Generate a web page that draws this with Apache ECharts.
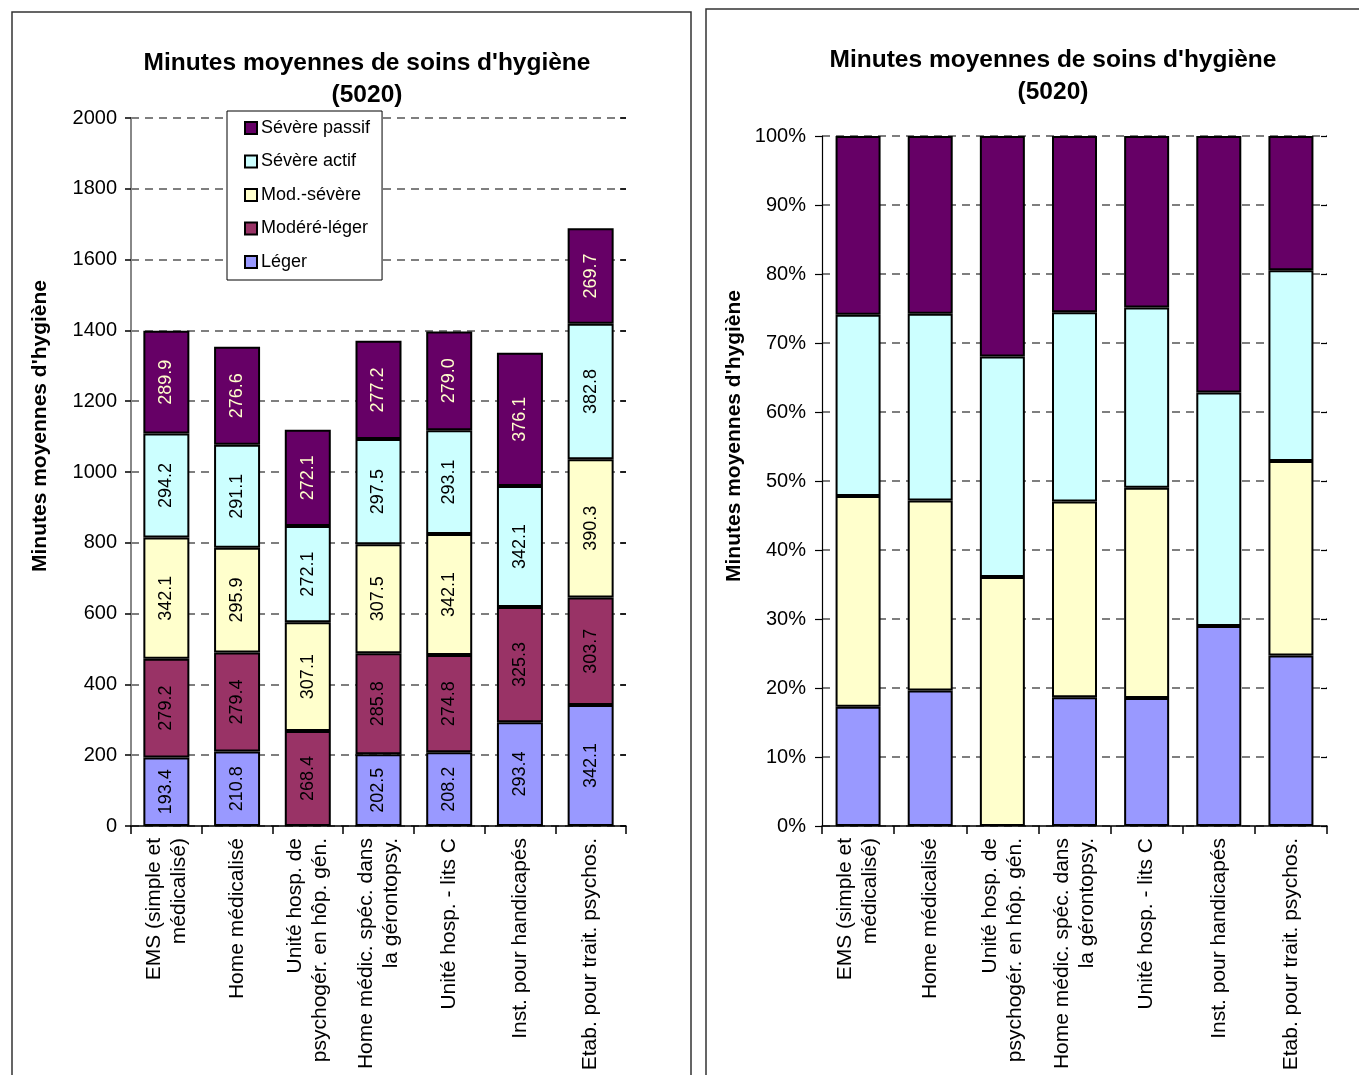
<!DOCTYPE html>
<html>
<head>
<meta charset="utf-8">
<script src="https://cdn.jsdelivr.net/npm/echarts@6/dist/echarts.min.js"></script>
<style>
html,body{margin:0;padding:0;background:#fff;}
#chart{width:1359px;height:1075px;}
</style>
</head>
<body>
<div id="chart"></div>
<script>
const categories = [
  "EMS (simple et\nmédicalisé)",
  "Home médicalisé",
  "Unité hosp. de\npsychogér. en hôp. gén.",
  "Home médic. spéc. dans\nla gérontopsy.",
  "Unité hosp. - lits C",
  "Inst. pour handicapés",
  "Etab. pour trait. psychos."
];
const leger         = [193.4, 210.8, null, 202.5, 208.2, 293.4, 342.1];
const modereLeger   = [279.2, 279.4, 268.4, 285.8, 274.8, 325.3, 303.7];
const modSevere     = [342.1, 295.9, 307.1, 307.5, 342.1, null, 390.3];
const severeActif   = [294.2, 291.1, 272.1, 297.5, 293.1, 342.1, 382.8];
const severePassif  = [289.9, 276.6, 272.1, 277.2, 279.0, 376.1, 269.7];

const titleText = "Minutes moyennes de soins d'hygiène\n(5020)";
const yName = "Minutes moyennes d'hygiène";

const colors = {
  "Léger": "#9999FF",
  "Modéré-léger": "#993366",
  "Mod.-sévère": "#FFFFCC",
  "Sévère actif": "#CCFFFF",
  "Sévère passif": "#660066"
};

// right chart: share of each level among the 4 shown levels
const pctSeries = [["Léger", leger], ["Mod.-sévère", modSevere], ["Sévère actif", severeActif], ["Sévère passif", severePassif]];
const totals = categories.map((c, i) => pctSeries.reduce((s, p) => s + (p[1][i] || 0), 0));
const pct = arr => arr.map((v, i) => (v == null ? null : v / totals[i] * 100));

const FONT = "'Liberation Sans', Arial, sans-serif";

function leftSeries(name, data, labelColor) {
  return {
    name, type: 'bar', stack: 'L', xAxisIndex: 0, yAxisIndex: 0, data,
    barWidth: 46,
    itemStyle: { color: colors[name], borderColor: '#000', borderWidth: 2 },
    label: { show: true, position: 'inside', rotate: 90, color: labelColor, fontSize: 18, fontFamily: FONT,
      formatter: p => p.value.toFixed(1) },
    emphasis: { disabled: true }
  };
}
function rightSeries(name, data) {
  return {
    name, type: 'bar', stack: 'R', xAxisIndex: 1, yAxisIndex: 2, data: pct(data),
    barWidth: 45,
    itemStyle: { color: colors[name], borderColor: '#000', borderWidth: 2 },
    emphasis: { disabled: true }
  };
}

const splitLine = { show: true, lineStyle: { color: '#555', type: [8, 6], width: 1.5 } };
const catLabel = { rotate: 90, fontSize: 21, color: '#000', margin: 12, fontFamily: FONT, interval: 0, lineHeight: 25 };

const option = {
  animation: false,
  textStyle: { fontFamily: FONT },
  title: [
    { text: titleText, left: 362, top: 42, textAlign: 'center',
      textStyle: { fontSize: 24.5, fontWeight: 'bold', color: '#000', lineHeight: 32, fontFamily: FONT } },
    { text: titleText, left: 1048, top: 39, textAlign: 'center',
      textStyle: { fontSize: 24.5, fontWeight: 'bold', color: '#000', lineHeight: 32, fontFamily: FONT } }
  ],
  legend: {
    orient: 'vertical', left: 227, top: 111,
    data: ['Sévère passif', 'Sévère actif', 'Mod.-sévère', 'Modéré-léger', 'Léger'],
    icon: 'rect', itemWidth: 12, itemHeight: 12, itemGap: 13.5,
    padding: [7, 12, 8, 17],
    backgroundColor: '#fff', borderColor: '#000', borderWidth: 1,
    itemStyle: { borderColor: '#000', borderWidth: 2 },
    textStyle: { fontSize: 18, color: '#000', lineHeight: 20, fontFamily: FONT, padding: [0, 0, 0, -1] },
    selectedMode: false
  },
  grid: [
    { left: 131, top: 118, width: 495, height: 708 },
    { left: 822, top: 136, width: 505, height: 690 }
  ],
  xAxis: [
    { type: 'category', gridIndex: 0, data: categories,
      axisLine: { lineStyle: { color: '#000', width: 1.5 } },
      axisTick: { show: true, length: 8, lineStyle: { color: '#000', width: 1.5 } },
      axisLabel: catLabel },
    { type: 'category', gridIndex: 1, data: categories,
      axisLine: { lineStyle: { color: '#000', width: 1.5 } },
      axisTick: { show: true, length: 8, lineStyle: { color: '#000', width: 1.5 } },
      axisLabel: catLabel }
  ],
  yAxis: [
    { type: 'value', gridIndex: 0, min: 0, max: 2000, interval: 200,
      name: yName, nameLocation: 'middle', nameGap: 80, nameRotate: 90,
      nameTextStyle: { fontSize: 21, fontWeight: 'bold', color: '#000', fontFamily: FONT, padding: [0, 0, 0, 92] },
      axisLine: { show: true, lineStyle: { color: '#888', width: 2 } },
      axisTick: { show: true, length: 6, lineStyle: { color: '#000', width: 1.5 } },
      axisLabel: { fontSize: 20, color: '#000', margin: 14, fontFamily: FONT, formatter: v => String(v) },
      splitLine },
    { type: 'value', gridIndex: 0, min: 0, max: 2000, interval: 200,
      axisLine: { show: false }, axisLabel: { show: false }, splitLine: { show: false },
      axisTick: { show: true, inside: true, length: 6, lineStyle: { color: '#000', width: 1.5 } } },
    { type: 'value', gridIndex: 1, min: 0, max: 100, interval: 10,
      name: yName, nameLocation: 'middle', nameGap: 77, nameRotate: 90,
      nameTextStyle: { fontSize: 21, fontWeight: 'bold', color: '#000', fontFamily: FONT, padding: [0, 0, 0, 90] },
      axisLine: { show: true, lineStyle: { color: '#000', width: 1.2 } },
      axisTick: { show: true, length: 7, lineStyle: { color: '#000', width: 1.2 } },
      axisLabel: { fontSize: 20, color: '#000', margin: 16, fontFamily: FONT, formatter: '{value}%' },
      splitLine },
    { type: 'value', gridIndex: 1, min: 0, max: 100, interval: 10,
      axisLine: { show: false }, axisLabel: { show: false }, splitLine: { show: false },
      axisTick: { show: true, inside: true, length: 6, lineStyle: { color: '#000', width: 1.2 } } }
  ],
  graphic: [
    { type: 'rect', shape: { x: 12, y: 12, width: 679, height: 1100 }, silent: true, z: -1,
      style: { fill: 'none', stroke: '#333', lineWidth: 1.5 } },
    { type: 'rect', shape: { x: 706, y: 9, width: 700, height: 1100 }, silent: true, z: -1,
      style: { fill: 'none', stroke: '#333', lineWidth: 1.5 } }
  ],
  series: [
    leftSeries('Léger', leger, '#000'),
    leftSeries('Modéré-léger', modereLeger, '#000'),
    leftSeries('Mod.-sévère', modSevere, '#000'),
    leftSeries('Sévère actif', severeActif, '#000'),
    leftSeries('Sévère passif', severePassif, '#FFFFCC'),
    rightSeries('Léger', leger),
    rightSeries('Mod.-sévère', modSevere),
    rightSeries('Sévère actif', severeActif),
    rightSeries('Sévère passif', severePassif)
  ]
};

const chart = echarts.init(document.getElementById('chart'), null, { renderer: 'canvas' });
chart.setOption(option);
</script>
</body>
</html>
